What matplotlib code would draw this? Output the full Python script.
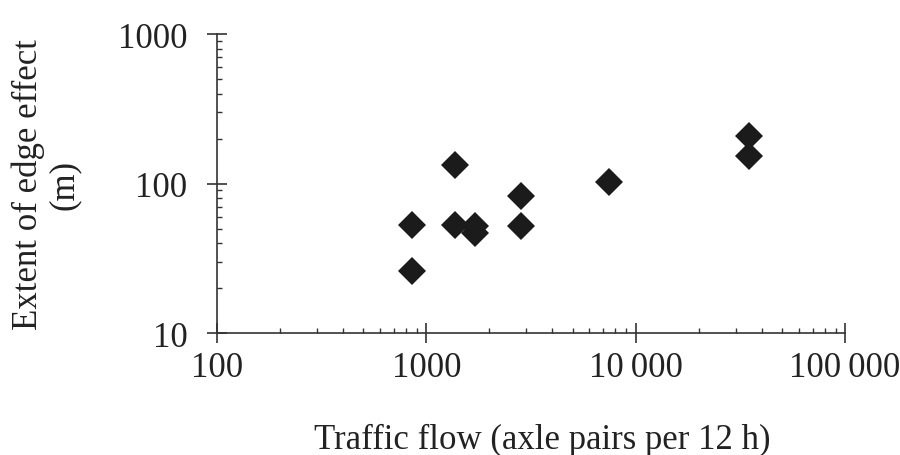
import matplotlib
matplotlib.use('Agg')
from matplotlib import pyplot as plt
from matplotlib.ticker import LogLocator, FixedLocator, NullFormatter

# traffic flow (axle pairs per 12 h) vs extent of edge effect (m)
traffic_flow = [855, 855, 1370, 1370, 1710, 1710, 2830, 2830, 7460, 34800, 34800]
edge_effect = [52.5, 26, 133, 52.5, 52, 47, 82.5, 52, 102, 208, 153]

x_ticks = [100, 1000, 10000, 100000]
x_tick_labels = ['100', '1000', '10\u2009000', '100\u2009000']
y_ticks = [10, 100, 1000]
y_tick_labels = ['10', '100', '1000']

plt.rcParams['font.family'] = ['Liberation Serif', 'DejaVu Serif']

fig = plt.figure(figsize=(9, 4.56), dpi=100)
ax = fig.add_axes([0.241, 0.2675, 0.698, 0.6555])

ax.plot(traffic_flow, edge_effect, linestyle='none', marker='D', markersize=14,
        color='#1b1b1b', markeredgewidth=0)

ax.set_xscale('log')
ax.set_yscale('log')
ax.set_xlim(100, 100000)
ax.set_ylim(10, 1000)

ax.xaxis.set_major_locator(FixedLocator(x_ticks))
ax.set_xticklabels(x_tick_labels)
ax.yaxis.set_major_locator(FixedLocator(y_ticks))
ax.set_yticklabels(y_tick_labels)
ax.xaxis.set_minor_locator(LogLocator(base=10, subs=range(2, 10)))
ax.yaxis.set_minor_locator(LogLocator(base=10, subs=range(2, 10)))
ax.xaxis.set_minor_formatter(NullFormatter())
ax.yaxis.set_minor_formatter(NullFormatter())

for s in ['top', 'right']:
    ax.spines[s].set_visible(False)
for s in ['left', 'bottom']:
    ax.spines[s].set_color('#333333')
    ax.spines[s].set_linewidth(1.2)

ax.tick_params(which='major', direction='inout', length=14.4, width=1.2,
               color='#333333', labelsize=25, labelcolor='#222222', pad=6)
ax.tick_params(which='minor', direction='in', length=3.5, width=1.0, color='#333333')
ax.tick_params(axis='y', which='major', pad=14)

ax.set_xlabel('Traffic flow (axle pairs per 12 h)', fontsize=25, color='#222222',
              labelpad=28)
ax.xaxis.label.set_x(0.518)
ax.set_ylabel('Extent of edge effect\n(m)', fontsize=25, color='#222222',
              labelpad=27, linespacing=1.1)

fig.savefig('out.png', dpi=100)
